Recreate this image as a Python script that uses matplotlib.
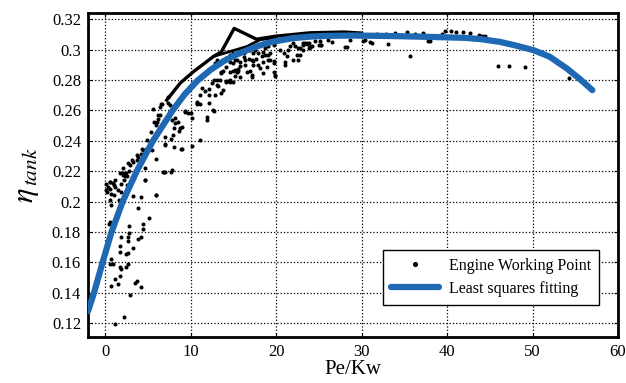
import numpy as np
import matplotlib
matplotlib.use("Agg")
import matplotlib.pyplot as plt

plt.rcParams['font.family'] = ['Liberation Serif', 'DejaVu Serif']
plt.rcParams['mathtext.fontset'] = 'stix'

# engine working points (Pe in kW, tank-to-wheel efficiency)
pe_pts = [6.9, 7.7, 4.7, 3.3, 4.2, 6.0, 3.9, 5.1, 4.4, 4.4, 2.8, 2.8, 2.7, 2.7, 1.9, 3.9, 4.25,
          3.3, 1.7, 1.8, 2.4, 2.7, 0.55, 0.8, 0.43, 0.66, 0.55, 0.94, 1.7, 1.9, 2.5, 2.7, 1.1,
          1.7, 1.5, 0.74, 3.5, 3.7, 4.2, 2.9, 2.2, 1.1,
          0.15, 0.55, 0.94, 0.35, 1.1, 0.15, 0.66, 1.05, 0.55, 0.66, 1.5, 1.9, 2.1, 2.4, 2.6,
          2.2, 1.9, 1.6, 2.6, 2.8,
          2.1, 2.3, 2.9, 3.3, 3.8, 3.7, 4.7, 6.0, 7.0, 4.4, 4.8, 4.25, 5.5, 7.05, 8.1, 8.85,
          7.75, 5.6, 5.4, 5.7, 6.2, 6.0, 6.4, 6.5, 7.4, 7.4, 7.6, 8.2, 8.5, 9.0, 8.7, 8.1, 9.3,
          10.7, 6.4, 6.1, 8.0, 9.0, 10.2, 11.1, 7.0, 7.8, 6.8, 6.0, 4.7,
          10.7, 11.1, 12.1, 12.6, 11.9, 10.2, 13.2, 13.4, 14.2, 14.6,
          10.7, 12.1, 12.7, 13.6, 12.9, 12.2, 12.5, 13.1, 14.2, 14.4, 14.6, 13.5, 13.8, 15.0,
          15.4, 15.6, 15.2, 15.8, 16.4, 17.0, 17.2, 17.3, 18.5, 18.1, 18.3, 18.7, 19.1, 19.3,
          19.7, 19.9, 20.5, 21.1, 21.3, 21.6, 22.0, 22.4, 22.2, 22.6, 23.2, 23.6, 23.8, 22.8,
          14.6, 14.2, 15.6, 16.2, 16.6, 17.5, 17.9, 17.7, 18.7, 19.1, 19.7, 13.1, 13.6, 12.9,
          13.1, 15.0, 15.4, 16.4, 17.2, 9.7, 10.1, 9.4, 11.7, 11.3, 13.8,
          23.2, 23.6, 23.8, 24.0, 24.2, 24.6, 25.0, 25.2, 25.3, 25.1, 26.1, 26.5, 28.1, 28.3,
          28.7, 30.2, 30.4, 31.0, 33.1, 35.7, 38.0, 22.8, 31.2, 23.4, 37.8,
          31.8, 32.9, 33.9, 35.3, 36.3, 37.2, 39.4, 39.8, 40.5, 41.1, 41.9, 42.7, 43.7, 44.1,
          44.4, 46.0, 47.3, 49.1, 54.3,
          18.1, 18.5, 19.1, 19.7, 19.8, 19.9, 20.9, 21.1, 21.4, 22.0, 22.6, 23.2, 24.0, 17.3,
          16.6, 17.2, 15.4, 15.8, 15.0, 13.6, 12.7, 11.1, 11.9,
          12.9, 13.5, 14.2, 14.6, 15.2, 15.8, 16.2, 16.8, 15.6, 15.2, 14.6, 17.7, 17.9, 18.5,
          18.9, 19.3, 15.0, 15.8, 17.0, 17.3,
          5.65, 6.6, 6.2, 7.0, 8.8, 8.2, 7.8, 4.9, 4.3, 3.7, 3.1, 2.7, 2.1, 1.75, 1.2, 0.6, 1.0,
          0.6, 0.2]
eta_pts = [0.2196, 0.2196, 0.2145, 0.2035, 0.2031, 0.2042, 0.1961, 0.1895, 0.1851, 0.1823,
           0.1838, 0.1794, 0.1768, 0.1741, 0.1768, 0.1757, 0.1768, 0.1698, 0.1707, 0.1669,
           0.1654, 0.1659, 0.1867, 0.1860, 0.1856, 0.1626, 0.1593, 0.1588, 0.1567, 0.1560,
           0.1571, 0.1593, 0.1494, 0.1509, 0.1461, 0.1443, 0.1465, 0.1476, 0.1439, 0.1384,
           0.1241, 0.1198,
           0.2119, 0.2130, 0.2123, 0.2097, 0.2097, 0.2075, 0.2049, 0.2042, 0.2014, 0.1981,
           0.2075, 0.2119, 0.2174, 0.2189, 0.2167, 0.2141, 0.2064, 0.2014, 0.2108, 0.2202,
           0.2190, 0.2170, 0.2240, 0.2261, 0.2294, 0.2272, 0.2218, 0.2277, 0.2196, 0.2338,
           0.2349, 0.2312, 0.2338, 0.2378, 0.2356, 0.2349, 0.2409, 0.2404, 0.2459, 0.2524,
           0.2540, 0.2503, 0.2568, 0.2645, 0.2649, 0.2689, 0.2634, 0.2547, 0.2524, 0.2491,
           0.2465, 0.2481, 0.2590, 0.2645, 0.2620, 0.2522, 0.2437, 0.2345, 0.2364, 0.2404,
           0.2371, 0.2207, 0.2194, 0.2042, 0.2141,
           0.2654, 0.2700, 0.2700, 0.2600, 0.2555, 0.2549, 0.2759, 0.2799, 0.2786, 0.2799,
           0.2647, 0.2647, 0.2593, 0.2713, 0.2702, 0.2739, 0.2779, 0.2768, 0.2790, 0.2795,
           0.2788, 0.2845, 0.2856, 0.2856, 0.2849, 0.2856, 0.2823, 0.2889, 0.2900, 0.2856,
           0.2834, 0.2922, 0.2845, 0.2878, 0.2955, 0.2965, 0.2932, 0.2976, 0.2922, 0.2823,
           0.2998, 0.2900, 0.2955, 0.3020, 0.3042, 0.2965, 0.3020, 0.2932, 0.3031, 0.3042,
           0.3009, 0.3009, 0.2965, 0.2943, 0.2976, 0.2976, 0.2998, 0.2998, 0.2976, 0.3020,
           0.3009, 0.3020, 0.3031, 0.2801, 0.2911, 0.2911, 0.2932, 0.2911, 0.2932, 0.2932,
           0.2932, 0.2582, 0.2582, 0.2593, 0.2725, 0.2746, 0.2735,
           0.3042, 0.3037, 0.3042, 0.3016, 0.3020, 0.3053, 0.3031, 0.3027, 0.3031, 0.3053,
           0.3064, 0.3047, 0.3016, 0.3016, 0.3060, 0.3053, 0.3060, 0.3047, 0.3037, 0.2959,
           0.3053, 0.2963, 0.3044, 0.3040, 0.3057,
           0.3103, 0.3103, 0.3108, 0.3112, 0.3103, 0.3108, 0.3103, 0.3119, 0.3119, 0.3114,
           0.3112, 0.3108, 0.3097, 0.3086, 0.3086, 0.2893, 0.2891, 0.2886, 0.2814,
           0.3029, 0.2985, 0.2963, 0.2909, 0.2853, 0.2832, 0.2974, 0.2919, 0.2996, 0.2930,
           0.3007, 0.2996, 0.3018, 0.2897, 0.2853, 0.2820, 0.2853, 0.2820, 0.2788, 0.2853,
           0.2799, 0.2645, 0.2536,
           0.2897, 0.2919, 0.2886, 0.2919, 0.2930, 0.2919, 0.2952, 0.2941, 0.2875, 0.2864,
           0.2853, 0.2941, 0.2897, 0.2919, 0.2886, 0.2930, 0.2974, 0.2974, 0.2996, 0.2974,
           0.2612, 0.2645, 0.2568, 0.2426, 0.2481, 0.2514, 0.2536, 0.2404, 0.2349, 0.2305,
           0.2272, 0.2251, 0.2218, 0.2185, 0.2141, 0.2130, 0.2108, 0.2086, 0.2064]

# dense bands of working points that merge into lines
band_a_pe = [7.2, 8.8, 10.3, 12.7, 13.6, 15.1, 15.8, 17.7, 20.0, 24.0, 28.0, 30.0]
band_a_eta = [0.2667, 0.2780, 0.2853, 0.2955, 0.2985, 0.3139, 0.3120, 0.3068, 0.3088,
              0.3110, 0.3115, 0.3108]
band_b_pe = [12.7, 16.6, 18.1, 20.0]
band_b_eta = [0.2955, 0.3020, 0.3064, 0.3078]

# least squares fitting curve
fit_pe = [-2, -1.3, -0.3, 0.75, 2.05, 3.7, 5.6, 7.9, 9.3, 10.8, 12.3, 13.9, 15.3, 16.7, 18,
          19.5, 22, 24, 26, 29, 32, 35, 38, 42, 44, 46.2, 48, 50.1, 52, 54, 55.5, 57]
fit_eta = [0.128, 0.14, 0.16, 0.18, 0.20, 0.22, 0.24, 0.26, 0.2705, 0.2795, 0.2865, 0.2925,
           0.2965, 0.2998, 0.3025, 0.305, 0.3075, 0.3085, 0.309, 0.3092, 0.309, 0.3087,
           0.3083, 0.3077, 0.3068, 0.305, 0.3027, 0.2996, 0.2953, 0.2876, 0.2808, 0.2733]

yticks = [0.12, 0.14, 0.16, 0.18, 0.2, 0.22, 0.24, 0.26, 0.28, 0.3, 0.32]
ytick_labels = ['0.12', '0.14', '0.16', '0.18', '0.2', '0.22', '0.24', '0.26', '0.28',
                '0.3', '0.32']
xticks = [0, 10, 20, 30, 40, 50, 60]

fig = plt.figure(figsize=(6.26, 3.83), dpi=100)
ax = fig.add_axes([0.1406, 0.1201, 0.8466, 0.8459])

ax.plot(band_a_pe, band_a_eta, color='black', lw=2.4, zorder=2)
ax.plot(band_b_pe, band_b_eta, color='black', lw=2.0, zorder=2)
ax.plot(pe_pts, eta_pts, linestyle='none', marker='o', ms=1.9, color='black',
        label='Engine Working Point', zorder=2)
ax.plot(fit_pe, fit_eta, color='#1f68b3', lw=4.5, solid_capstyle='round',
        label='Least squares fitting', zorder=3)

ax.set_xlim(-2, 60)
ax.set_ylim(0.111, 0.324)
ax.set_xticks(xticks)
ax.set_yticks(yticks)
ax.set_yticklabels(ytick_labels)
ax.grid(True, color='black', linestyle=':', lw=0.9)
ax.tick_params(direction='in', top=True, right=True, labelsize=12, length=3, pad=5)
for s in ax.spines.values():
    s.set_linewidth(2)

ax.set_xlabel('Pe/Kw', fontsize=15, labelpad=0)
ax.set_ylabel(r'$\eta_{\,tank}$', fontsize=22, labelpad=8)

leg = ax.legend(loc='lower right', bbox_to_anchor=(0.964, 0.099), borderaxespad=0,
                fontsize=11.5, fancybox=False, framealpha=1, edgecolor='black',
                handlelength=3.0, handletextpad=0.6, markerscale=1.4,
                borderpad=0.5, labelspacing=0.45)
leg.get_frame().set_linewidth(1)

fig.savefig('out.png', dpi=100)
